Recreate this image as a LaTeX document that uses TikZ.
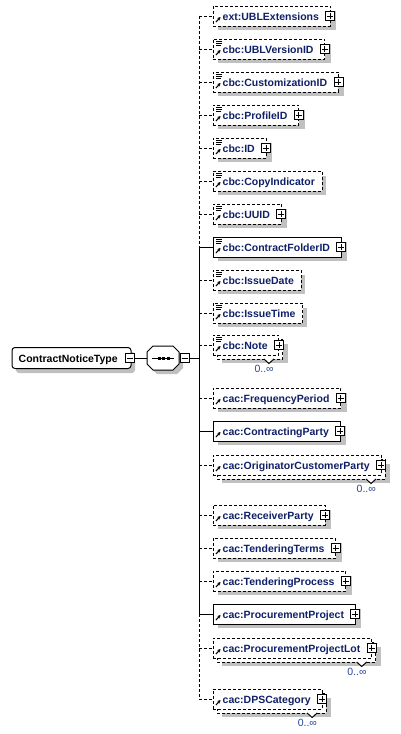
\documentclass[tikz,border=0pt]{standalone}
\usepackage{fontspec}
\setmainfont{Liberation Sans}
\usetikzlibrary{arrows.meta}
\definecolor{ename}{RGB}{16,32,104}
\definecolor{multc}{RGB}{40,70,150}
\definecolor{shadowc}{RGB}{192,192,192}
\newcommand\efont{\bfseries\fontsize{10.5}{12}\selectfont}
\newlength\tw
\newcommand\mw[2]{\settowidth\tw{\efont #2}\expandafter\xdef\csname wid#1\endcsname{\the\tw}}
\tikzset{
 optdash/.style={dash pattern=on 3pt off 2pt},
 boxbase/.style={shape=rectangle, minimum height=20pt, inner sep=0pt, outer sep=0pt, fill=white, draw=black, line width=1pt},
 optbox/.style={boxbase, optdash},
 reqbox/.style={boxbase},
 optline/.style={line width=1pt, optdash},
 reqline/.style={line width=1pt},
 etext/.style={font=\efont, text=ename, inner sep=0pt},
 rtext/.style={font=\efont, text=black, inner sep=0pt},
 mtext/.style={font=\fontsize{10.5}{12}\selectfont, text=multc, inner sep=0pt},
 pmbox/.style={shape=rectangle, draw=black, fill=white, line width=0.8pt, minimum size=9pt, inner sep=0pt, outer sep=0pt},
 refarrow/.style={line width=1.1pt, -{Stealth[length=3.2pt,width=3.6pt]}},
 shade/.style={fill=shadowc},
}
% #1 id, #2 y, #3 text, #4 box style, #5 gap after text, #6 shadow extension, #7 multi (0/1)
\newcommand\elem[7]{%
  \pgfmathsetmacro\er{222.5+\csname wid#1\endcsname+#5}%
  \ifnum#7=1
    \fill[shade] (222,#2-1) rectangle ({\er+9},#2+18);
    \draw[optline, fill=white] (217,#2-6) rectangle ({\er+4},#2+14);
    \fill[white] ({\er-15},#2+14) -- ({\er-10},#2+18.5) -- ({\er-5},#2+14) -- cycle;
    \draw[line width=1pt] ({\er-15},#2+14) -- ({\er-10},#2+18.5) -- ({\er-5},#2+14);
    \node[mtext, anchor=base east] (#1m) at ({\er-5},#2+27) {0..∞};
  \else
    \fill[shade] (218,#2-5) rectangle ({\er+#6},#2+14);
  \fi
  \pgfmathsetmacro\ew{\er-213}%
  \node[#4, minimum width=\ew pt, anchor=west] (#1) at (213,#2) {};
  \node[etext, anchor=base west] (#1t) at (222.5,#2+4) {#3};
  \draw[refarrow] (216,#2+6) -- (220.5,#2+1);
}
\newcommand\elsimple[1]{\draw[line width=0.7pt] (216,#1-7.3) -- (222,#1-7.3) (216,#1-5.3) -- (222,#1-5.3) (216,#1-3.3) -- (221,#1-3.3);}
\newcommand\elplus[2]{%
  \node[pmbox] (#1) at (#2.east) {};
  \draw[line width=0.8pt] ([xshift=-3pt]#1.center) -- ([xshift=3pt]#1.center) ([yshift=-3pt]#1.center) -- ([yshift=3pt]#1.center);}
\newcommand\elminus[3]{%
  \node[pmbox] (#1) at (#2,#3) {};
  \draw[line width=0.8pt] ({#2-3},#3) -- ({#2+3},#3);}
\begin{document}
\mw{e1}{ext:UBLExtensions}\mw{e2}{cbc:UBLVersionID}\mw{e3}{cbc:CustomizationID}\mw{e4}{cbc:ProfileID}%
\mw{e5}{cbc:ID}\mw{e6}{cbc:CopyIndicator}\mw{e7}{cbc:UUID}\mw{e8}{cbc:ContractFolderID}%
\mw{e9}{cbc:IssueDate}\mw{e10}{cbc:IssueTime}\mw{e11}{cbc:Note}\mw{e12}{cac:FrequencyPeriod}%
\mw{e13}{cac:ContractingParty}\mw{e14}{cac:OriginatorCustomerParty}\mw{e15}{cac:ReceiverParty}%
\mw{e16}{cac:TenderingTerms}\mw{e17}{cac:TenderingProcess}\mw{e18}{cac:ProcurementProject}%
\mw{e19}{cac:ProcurementProjectLot}\mw{e20}{cac:DPSCategory}%
\begin{tikzpicture}[x=1pt,y=-1pt]
\fill[white] (0,0) rectangle (401,734);
\path[use as bounding box] (0,0) rectangle (401,734);

% root
\fill[shade, rounded corners=3pt] (16,352) rectangle (135,373);
\node[boxbase, rounded corners=3pt, minimum width=119pt, minimum height=21pt] (root) at (71.5,358) {};
\node[rtext, anchor=base west] (rootname) at (18.5,362) {ContractNoticeType};
\elminus{rootminus}{130}{358}

% sequence compositor
\node[minimum width=32pt, minimum height=24pt, inner sep=0pt, outer sep=0pt] (seq) at (163,358) {};
\fill[shade, shift={(4,4)}] (153,346) -- (173,346) -- (179,352) -- (179,364) -- (173,370) -- (153,370) -- (147,364) -- (147,352) -- cycle;
\draw[line width=1pt, fill=white] (153,346) -- (173,346) -- (179,352) -- (179,364) -- (173,370) -- (153,370) -- (147,364) -- (147,352) -- cycle;
\draw[line width=1pt] (152,358) -- (174,358);
\fill (157.5,356.5) rectangle +(3,3);
\fill (162,356.5) rectangle +(3,3);
\fill (166.5,356.5) rectangle +(3,3);
\elminus{seqminus}{184.5}{358}
\draw[reqline] (rootminus.east) -- (seq.west);
\coordinate (tc) at (199,358);
\draw[reqline] (seqminus.east) -- (tc);

% trunk coordinates
\foreach \i/\yy in {1/16,2/49,3/82,4/115,5/148,6/181,7/214,8/247,9/280,10/313,11/345,12/398,13/431,14/465,15/515,16/548,17/581,18/614,19/648,20/699}
  \coordinate (t\i) at (199,\yy);
\draw[optline] (t1) -- (t8);
\draw[reqline] (t8) -- (t18);
\draw[optline] (t18) -- (t20);

% elements
\elem{e1}{16}{ext:UBLExtensions}{optbox}{11.5}{6}{0}\elplus{p1}{e1}
\elem{e2}{49}{cbc:UBLVersionID}{optbox}{11.5}{6}{0}\elsimple{49}\elplus{p2}{e2}
\elem{e3}{82}{cbc:CustomizationID}{optbox}{11.5}{6}{0}\elsimple{82}\elplus{p3}{e3}
\elem{e4}{115}{cbc:ProfileID}{optbox}{11.5}{6}{0}\elsimple{115}\elplus{p4}{e4}
\elem{e5}{148}{cbc:ID}{optbox}{11.5}{6}{0}\elsimple{148}\elplus{p5}{e5}
\elem{e6}{181}{cbc:CopyIndicator}{optbox}{7.5}{4}{0}\elsimple{181}
\elem{e7}{214}{cbc:UUID}{optbox}{11.5}{6}{0}\elsimple{214}\elplus{p7}{e7}
\elem{e8}{247}{cbc:ContractFolderID}{reqbox}{11.5}{6}{0}\elsimple{247}\elplus{p8}{e8}
\elem{e9}{280}{cbc:IssueDate}{optbox}{7.5}{4}{0}\elsimple{280}
\elem{e10}{313}{cbc:IssueTime}{optbox}{7.5}{4}{0}\elsimple{313}
\elem{e11}{345}{cbc:Note}{optbox}{11.5}{6}{1}\elsimple{345}\elplus{p11}{e11}
\elem{e12}{398}{cac:FrequencyPeriod}{optbox}{11.5}{6}{0}\elplus{p12}{e12}
\elem{e13}{431}{cac:ContractingParty}{reqbox}{11.5}{6}{0}\elplus{p13}{e13}
\elem{e14}{465}{cac:OriginatorCustomerParty}{optbox}{11.5}{6}{1}\elplus{p14}{e14}
\elem{e15}{515}{cac:ReceiverParty}{optbox}{11.5}{6}{0}\elplus{p15}{e15}
\elem{e16}{548}{cac:TenderingTerms}{optbox}{11.5}{6}{0}\elplus{p16}{e16}
\elem{e17}{581}{cac:TenderingProcess}{optbox}{11.5}{6}{0}\elplus{p17}{e17}
\elem{e18}{614}{cac:ProcurementProject}{reqbox}{11.5}{6}{0}\elplus{p18}{e18}
\elem{e19}{648}{cac:ProcurementProjectLot}{optbox}{11.5}{6}{1}\elplus{p19}{e19}
\elem{e20}{699}{cac:DPSCategory}{optbox}{11.5}{6}{1}\elplus{p20}{e20}

% connectors
\foreach \i in {1,2,3,4,5,6,7,9,10,11,12,14,15,16,17,19,20}
  \draw[optline] (t\i) -- (e\i.west);
\foreach \i in {8,13,18}
  \draw[reqline] (t\i) -- (e\i.west);
\end{tikzpicture}
\end{document}
